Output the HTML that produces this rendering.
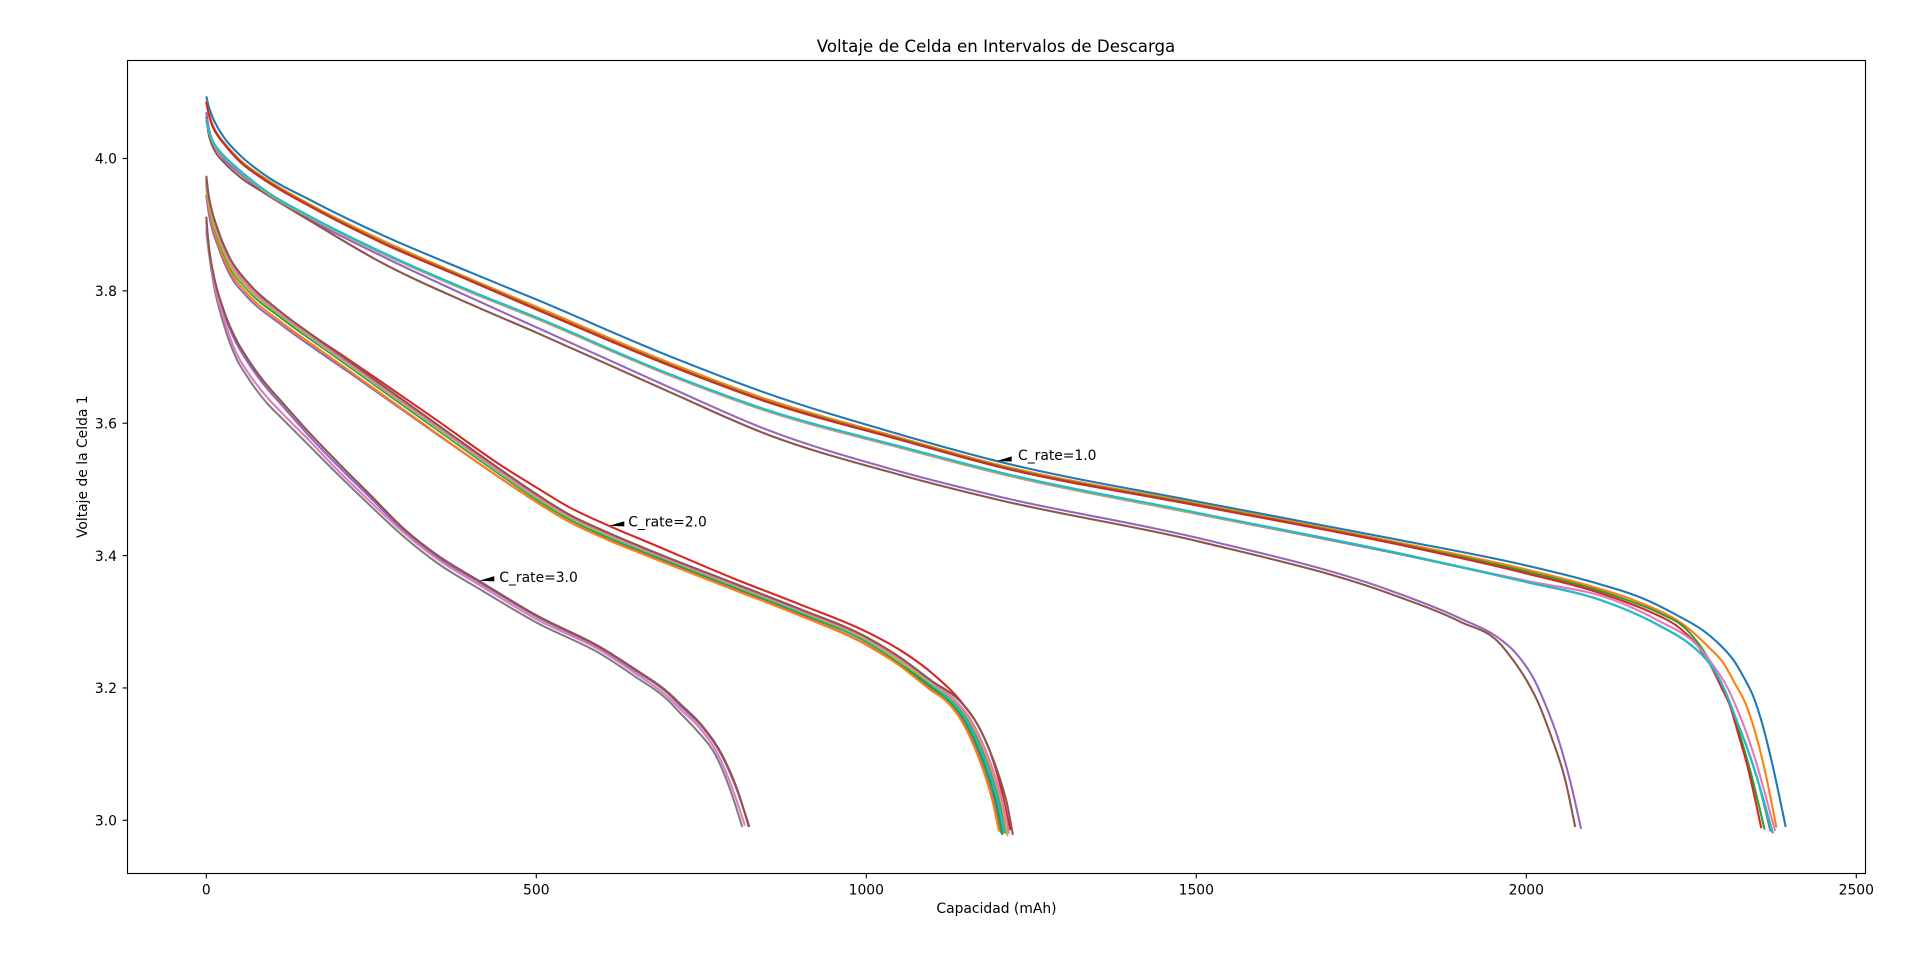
<!DOCTYPE html>
<html lang="es">
<head>
<meta charset="utf-8">
<title>Voltaje de Celda en Intervalos de Descarga</title>
<style>
html,body{margin:0;padding:0;background:#fff;width:1920px;height:967px;overflow:hidden}
svg{display:block}
text{font-family:"DejaVu Sans",sans-serif;fill:#000}
</style>
</head>
<body>
<svg id="chart" width="1920" height="967" viewBox="0 0 1920 967" xmlns="http://www.w3.org/2000/svg">
  <rect x="0" y="0" width="1920" height="967" fill="#fff"/>
  <g id="series-layer"></g>
  <g id="arrow-layer"></g>
  <rect x="127.5" y="60.5" width="1738" height="813" fill="none" stroke="#000" stroke-width="1.11"/>
  <g id="tick-layer"></g>
  <text x="996" y="52" font-size="16.64" text-anchor="middle">Voltaje de Celda en Intervalos de Descarga</text>
  <text x="996.5" y="913" font-size="13.89" text-anchor="middle">Capacidad (mAh)</text>
  <text transform="translate(87,466.7) rotate(-90)" font-size="13.89" text-anchor="middle">Voltaje de la Celda 1</text>
  <text x="1018" y="460" font-size="13.89">C_rate=1.0</text>
  <text x="628.3" y="526.5" font-size="13.89">C_rate=2.0</text>
  <text x="499.3" y="582" font-size="13.89">C_rate=3.0</text>
</svg>
<script>
// Axis tick values
const xTickValues = [0, 500, 1000, 1500, 2000, 2500];
const yTickValues = [3.0, 3.2, 3.4, 3.6, 3.8, 4.0];
const yTickLabels = ["3.0", "3.2", "3.4", "3.6", "3.8", "4.0"];

// Annotation tips
const annotationTipQ = [1197.6, 610.6, 413.6];
const annotationTipV = [3.543, 3.445, 3.362];

// C_rate = 1.0 : shared capacity grid for the head of each curve
const c1Grid = [0, 3, 8, 15, 26, 51, 86, 162, 263, 400, 500, 700, 850, 1051, 1197, 1505, 1800];
const c1BlueV   = [4.094, 4.081, 4.066, 4.051, 4.033, 4.005, 3.977, 3.935, 3.886, 3.828, 3.787, 3.702, 3.645, 3.583, 3.543, 3.481, 3.425];
const c1BlueTailQ = [2000, 2100, 2182, 2228, 2273, 2293.5, 2314, 2329, 2344, 2356.6, 2369, 2393];
const c1BlueTailV = [3.385, 3.36, 3.333, 3.31, 3.283, 3.265, 3.242, 3.217, 3.187, 3.149, 3.101, 2.99];
const c1OrangeV = [4.087, 4.072, 4.055, 4.04, 4.025, 3.998, 3.972, 3.928, 3.878, 3.818, 3.776, 3.692, 3.636, 3.578, 3.538, 3.478, 3.421];
const c1OrangeTailQ = [2000, 2100, 2162, 2248, 2276, 2299, 2316, 2334, 2346.5, 2359, 2379];
const c1OrangeTailV = [3.379, 3.353, 3.333, 3.288, 3.262, 3.237, 3.207, 3.172, 3.134, 3.086, 2.989];
const c1GreenV  = [4.086, 4.071, 4.053, 4.039, 4.024, 3.996, 3.97, 3.926, 3.875, 3.816, 3.773, 3.689, 3.633, 3.576, 3.536, 3.476, 3.419];
const c1GreenTailQ = [2000, 2100, 2152, 2197.5, 2243, 2268, 2288, 2301, 2314, 2326, 2339, 2361];
const c1GreenTailV = [3.376, 3.35, 3.333, 3.315, 3.288, 3.257, 3.222, 3.194, 3.161, 3.121, 3.076, 2.986];
const c1RedV    = [4.085, 4.07, 4.052, 4.038, 4.023, 3.995, 3.969, 3.925, 3.874, 3.815, 3.772, 3.688, 3.632, 3.575, 3.535, 3.475, 3.418];
const c1RedTailQ = [2000, 2100, 2142, 2187.5, 2233, 2261, 2283, 2296, 2309, 2321, 2334, 2356];
const c1RedTailV = [3.373, 3.347, 3.333, 3.315, 3.29, 3.262, 3.227, 3.2, 3.172, 3.131, 3.086, 2.988];
const c1PurpleV = [4.07, 4.05, 4.03, 4.015, 4.0, 3.977, 3.951, 3.905, 3.854, 3.79, 3.745, 3.655, 3.59, 3.527, 3.49, 3.426, 3.345];
const c1PurpleTailQ = [1900, 1960, 1980, 1998, 2011, 2026, 2049, 2066, 2083];
const c1PurpleTailV = [3.305, 3.274, 3.257, 3.235, 3.2145, 3.182, 3.121, 3.061, 2.987];
const c1BrownV  = [4.063, 4.04, 4.022, 4.008, 3.995, 3.972, 3.949, 3.903, 3.844, 3.78, 3.737, 3.648, 3.583, 3.522, 3.485, 3.421, 3.34];
const c1BrownTailQ = [1900, 1960, 1974, 1990, 2003, 2016, 2038, 2059, 2074];
const c1BrownTailV = [3.3, 3.267, 3.25, 3.228, 3.207, 3.182, 3.126, 3.061, 2.99];
const c1PinkV   = [4.06, 4.045, 4.028, 4.016, 4.003, 3.98, 3.952, 3.908, 3.858, 3.798, 3.758, 3.673, 3.618, 3.563, 3.525, 3.462, 3.404];
const c1PinkTailQ = [2000, 2132, 2197.5, 2263, 2283, 2304, 2319, 2334, 2346.5, 2359, 2377];
const c1PinkTailV = [3.362, 3.333, 3.303, 3.26, 3.2345, 3.202, 3.169, 3.131, 3.0935, 3.05, 2.984];
const c1GrayV   = [4.058, 4.044, 4.029, 4.017, 4.004, 3.981, 3.953, 3.909, 3.859, 3.799, 3.759, 3.674, 3.619, 3.564, 3.526, 3.463, 3.404];
const c1GrayTailQ = [2000, 2112, 2200, 2253, 2271, 2288, 2304, 2319, 2334, 2349, 2370];
const c1GrayTailV = [3.36, 3.333, 3.295, 3.262, 3.245, 3.222, 3.189, 3.15, 3.111, 3.066, 2.983];
const c1OliveV  = [4.057, 4.044, 4.029, 4.017, 4.004, 3.981, 3.953, 3.909, 3.859, 3.799, 3.759, 3.674, 3.619, 3.564, 3.526, 3.463, 3.405];
const c1OliveTailQ = [2000, 2112, 2200, 2253, 2271, 2288, 2304, 2319, 2334, 2349, 2374];
const c1OliveTailV = [3.36, 3.333, 3.295, 3.262, 3.245, 3.222, 3.189, 3.15, 3.111, 3.066, 2.98];
const c1CyanV   = [4.058, 4.045, 4.03, 4.018, 4.005, 3.982, 3.954, 3.91, 3.86, 3.8, 3.76, 3.675, 3.62, 3.565, 3.527, 3.464, 3.405];
const c1CyanTailQ = [2000, 2112, 2200, 2253, 2271, 2288, 2304, 2319, 2334, 2349, 2373];
const c1CyanTailV = [3.36, 3.333, 3.295, 3.262, 3.245, 3.222, 3.189, 3.15, 3.111, 3.066, 2.981];

// C_rate = 2.0
const c2Grid = [0, 3, 8, 16, 36, 61, 112, 162, 213, 263, 350, 450, 500, 550, 610, 672, 800, 900, 1000, 1050, 1100];
const c2BlueV   = [3.96, 3.938, 3.913, 3.886, 3.838, 3.805, 3.762, 3.726, 3.69, 3.654, 3.591, 3.521, 3.487, 3.457, 3.429, 3.404, 3.354, 3.315, 3.272, 3.24, 3.203];
const c2BlueTailQ = [1126, 1149, 1164, 1179, 1190, 1199, 1208];
const c2BlueTailV = [3.182, 3.154, 3.126, 3.09, 3.058, 3.026, 2.98];
const c2OrangeV = [3.955, 3.932, 3.907, 3.878, 3.83, 3.797, 3.754, 3.718, 3.682, 3.646, 3.584, 3.514, 3.481, 3.451, 3.423, 3.398, 3.348, 3.309, 3.265, 3.234, 3.195];
const c2OrangeTailQ = [1119, 1142, 1157, 1172, 1183, 1192, 1201];
const c2OrangeTailV = [3.182, 3.154, 3.126, 3.09, 3.058, 3.026, 2.983];
const c2GreenV  = [3.965, 3.94, 3.915, 3.885, 3.836, 3.803, 3.76, 3.724, 3.688, 3.652, 3.59, 3.519, 3.485, 3.455, 3.427, 3.402, 3.352, 3.313, 3.27, 3.238, 3.2];
const c2GreenTailQ = [1124, 1147, 1162, 1177, 1188, 1197, 1206];
const c2GreenTailV = [3.182, 3.154, 3.126, 3.09, 3.058, 3.026, 2.978];
const c2RedV    = [3.965, 3.942, 3.917, 3.89, 3.845, 3.81, 3.768, 3.732, 3.698, 3.664, 3.604, 3.534, 3.503, 3.473, 3.445, 3.419, 3.365, 3.326, 3.285, 3.258, 3.222];
const c2RedTailQ = [1147, 1170, 1187, 1205, 1218];
const c2RedTailV = [3.175, 3.142, 3.105, 3.045, 2.985];
const c2PurpleV = [3.945, 3.922, 3.897, 3.872, 3.824, 3.792, 3.75, 3.714, 3.679, 3.644, 3.583, 3.514, 3.481, 3.451, 3.424, 3.399, 3.35, 3.31, 3.266, 3.235, 3.197];
const c2PurpleTailQ = [1122, 1145, 1160, 1175, 1186, 1195, 1204];
const c2PurpleTailV = [3.182, 3.154, 3.126, 3.09, 3.058, 3.026, 2.981];
const c2BrownV  = [3.974, 3.948, 3.923, 3.897, 3.849, 3.815, 3.769, 3.732, 3.696, 3.66, 3.598, 3.527, 3.493, 3.462, 3.434, 3.408, 3.358, 3.319, 3.277, 3.247, 3.21];
const c2BrownTailQ = [1140, 1163, 1178, 1193, 1204, 1213, 1222];
const c2BrownTailV = [3.182, 3.154, 3.126, 3.09, 3.058, 3.026, 2.978];
const c2PinkV   = [3.968, 3.945, 3.92, 3.893, 3.844, 3.81, 3.766, 3.729, 3.693, 3.657, 3.595, 3.524, 3.49, 3.46, 3.432, 3.406, 3.356, 3.317, 3.275, 3.244, 3.208];
const c2PinkTailQ = [1134, 1157, 1172, 1187, 1198, 1207, 1216];
const c2PinkTailV = [3.182, 3.154, 3.126, 3.09, 3.058, 3.026, 2.98];
const c2GrayV   = [3.97, 3.946, 3.919, 3.892, 3.843, 3.809, 3.767, 3.73, 3.694, 3.658, 3.596, 3.525, 3.491, 3.461, 3.433, 3.407, 3.357, 3.318, 3.275, 3.243, 3.205];
const c2GrayTailQ = [1129, 1152, 1167, 1182, 1193, 1202, 1211];
const c2GrayTailV = [3.182, 3.154, 3.126, 3.09, 3.058, 3.026, 2.98];
const c2OliveV  = [3.963, 3.94, 3.915, 3.888, 3.839, 3.806, 3.764, 3.727, 3.691, 3.655, 3.593, 3.522, 3.488, 3.458, 3.43, 3.405, 3.355, 3.316, 3.273, 3.241, 3.206];
const c2OliveTailQ = [1132, 1155, 1170, 1185, 1196, 1205, 1214];
const c2OliveTailV = [3.182, 3.154, 3.126, 3.09, 3.058, 3.026, 2.976];
const c2CyanV   = [3.962, 3.939, 3.914, 3.887, 3.838, 3.805, 3.763, 3.726, 3.69, 3.654, 3.592, 3.521, 3.487, 3.457, 3.429, 3.404, 3.354, 3.315, 3.272, 3.24, 3.204];
const c2CyanTailQ = [1127, 1150, 1165, 1180, 1191, 1200, 1209];
const c2CyanTailV = [3.182, 3.154, 3.126, 3.09, 3.058, 3.026, 2.98];

// C_rate = 3.0
const c3Grid = [0, 3, 11, 26, 46, 61, 94, 112, 152, 200, 250, 300, 351, 413, 500, 600, 650, 700];
const c3PurpleV = [3.905, 3.875, 3.82, 3.768, 3.72, 3.695, 3.65, 3.63, 3.585, 3.535, 3.486, 3.437, 3.397, 3.36, 3.308, 3.258, 3.226, 3.191];
const c3PurpleTailQ = [718, 753, 783, 805, 823];
const c3PurpleTailV = [3.173, 3.139, 3.094, 3.043, 2.99];
const c3BrownV  = [3.912, 3.875, 3.825, 3.772, 3.725, 3.7, 3.655, 3.635, 3.59, 3.54, 3.49, 3.44, 3.4, 3.362, 3.31, 3.26, 3.228, 3.193];
const c3BrownTailQ = [718, 753, 783, 805, 822];
const c3BrownTailV = [3.176, 3.141, 3.096, 3.045, 2.99];
const c3PinkV   = [3.895, 3.87, 3.818, 3.76, 3.705, 3.68, 3.637, 3.618, 3.578, 3.528, 3.48, 3.434, 3.394, 3.356, 3.304, 3.255, 3.222, 3.186];
const c3PinkTailQ = [718, 748, 778, 800, 816];
const c3PinkTailV = [3.168, 3.139, 3.094, 3.04, 2.992];
const c3GrayV   = [3.89, 3.865, 3.811, 3.751, 3.697, 3.672, 3.628, 3.61, 3.57, 3.522, 3.474, 3.428, 3.388, 3.35, 3.299, 3.25, 3.217, 3.181];
const c3GrayTailQ = [718, 743, 773, 796, 812];
const c3GrayTailV = [3.162, 3.136, 3.096, 3.04, 2.99];

const tabBlue = "#1f77b4", tabOrange = "#ff7f0e", tabGreen = "#2ca02c", tabRed = "#d62728", tabPurple = "#9467bd",
      tabBrown = "#8c564b", tabPink = "#e377c2", tabGray = "#7f7f7f", tabOlive = "#bcbd22", tabCyan = "#17becf";

const seriesList = [
  ["c1-blue", c1Grid, c1BlueV, c1BlueTailQ, c1BlueTailV, tabBlue],
  ["c1-orange", c1Grid, c1OrangeV, c1OrangeTailQ, c1OrangeTailV, tabOrange],
  ["c1-green", c1Grid, c1GreenV, c1GreenTailQ, c1GreenTailV, tabGreen],
  ["c1-red", c1Grid, c1RedV, c1RedTailQ, c1RedTailV, tabRed],
  ["c1-purple", c1Grid, c1PurpleV, c1PurpleTailQ, c1PurpleTailV, tabPurple],
  ["c1-brown", c1Grid, c1BrownV, c1BrownTailQ, c1BrownTailV, tabBrown],
  ["c1-pink", c1Grid, c1PinkV, c1PinkTailQ, c1PinkTailV, tabPink],
  ["c1-gray", c1Grid, c1GrayV, c1GrayTailQ, c1GrayTailV, tabGray],
  ["c1-olive", c1Grid, c1OliveV, c1OliveTailQ, c1OliveTailV, tabOlive],
  ["c1-cyan", c1Grid, c1CyanV, c1CyanTailQ, c1CyanTailV, tabCyan],
  ["c2-blue", c2Grid, c2BlueV, c2BlueTailQ, c2BlueTailV, tabBlue],
  ["c2-purple", c2Grid, c2PurpleV, c2PurpleTailQ, c2PurpleTailV, tabPurple],
  ["c2-orange", c2Grid, c2OrangeV, c2OrangeTailQ, c2OrangeTailV, tabOrange],
  ["c2-red", c2Grid, c2RedV, c2RedTailQ, c2RedTailV, tabRed],
  ["c2-green", c2Grid, c2GreenV, c2GreenTailQ, c2GreenTailV, tabGreen],
  ["c2-gray", c2Grid, c2GrayV, c2GrayTailQ, c2GrayTailV, tabGray],
  ["c2-cyan", c2Grid, c2CyanV, c2CyanTailQ, c2CyanTailV, tabCyan],
  ["c2-olive", c2Grid, c2OliveV, c2OliveTailQ, c2OliveTailV, tabOlive],
  ["c2-pink", c2Grid, c2PinkV, c2PinkTailQ, c2PinkTailV, tabPink],
  ["c2-brown", c2Grid, c2BrownV, c2BrownTailQ, c2BrownTailV, tabBrown],
  ["c3-purple", c3Grid, c3PurpleV, c3PurpleTailQ, c3PurpleTailV, tabPurple],
  ["c3-gray", c3Grid, c3GrayV, c3GrayTailQ, c3GrayTailV, tabGray],
  ["c3-pink", c3Grid, c3PinkV, c3PinkTailQ, c3PinkTailV, tabPink],
  ["c3-brown", c3Grid, c3BrownV, c3BrownTailQ, c3BrownTailV, tabBrown]
];

const SVG_NS = "http://www.w3.org/2000/svg";
function xScale(q) { return 206.3 + 0.66 * q; }
function yScale(v) { return 820.3 - 661.8 * (v - 3); }

// Monotone cubic path through points with increasing x
function smoothPath(pts) {
  const n = pts.length;
  const h = [], s = [], t = new Array(n);
  for (let i = 0; i < n - 1; i++) {
    h.push(pts[i + 1][0] - pts[i][0]);
    s.push((pts[i + 1][1] - pts[i][1]) / h[i]);
  }
  for (let i = 1; i < n - 1; i++) {
    const p = (s[i - 1] * h[i] + s[i] * h[i - 1]) / (h[i - 1] + h[i]);
    t[i] = (Math.sign(s[i - 1]) + Math.sign(s[i])) *
      Math.min(Math.abs(s[i - 1]), Math.abs(s[i]), 0.5 * Math.abs(p));
  }
  t[0] = (3 * s[0] - t[1]) / 2;
  t[n - 1] = (3 * s[n - 2] - t[n - 2]) / 2;
  let d = "M" + pts[0][0].toFixed(2) + " " + pts[0][1].toFixed(2);
  for (let i = 0; i < n - 1; i++) {
    const dx = h[i] / 3;
    d += "C" + (pts[i][0] + dx).toFixed(2) + " " + (pts[i][1] + dx * t[i]).toFixed(2) +
         " " + (pts[i + 1][0] - dx).toFixed(2) + " " + (pts[i + 1][1] - dx * t[i + 1]).toFixed(2) +
         " " + pts[i + 1][0].toFixed(2) + " " + pts[i + 1][1].toFixed(2);
  }
  return d;
}

const seriesLayer = document.getElementById("series-layer");
seriesList.forEach(function (s) {
  const qs = s[1].concat(s[3]);
  const vs = s[2].concat(s[4]);
  const pts = qs.map(function (q, i) { return [xScale(q), yScale(vs[i])]; });
  const path = document.createElementNS(SVG_NS, "path");
  path.setAttribute("d", smoothPath(pts));
  path.setAttribute("fill", "none");
  path.setAttribute("stroke", s[5]);
  path.setAttribute("stroke-width", "2.08");
  path.setAttribute("stroke-linejoin", "round");
  
  
  seriesLayer.appendChild(path);
});

const arrowLayer = document.getElementById("arrow-layer");
annotationTipQ.forEach(function (q, i) {
  const tx = xScale(q), ty = yScale(annotationTipV[i]);
  const tri = document.createElementNS(SVG_NS, "polygon");
  tri.setAttribute("points", tx + "," + ty + " " + (tx + 15) + "," + (ty - 4.6) + " " + (tx + 15) + "," + (ty + 0.6));
  tri.setAttribute("fill", "#000");
  
  
  arrowLayer.appendChild(tri);
});

const tickLayer = document.getElementById("tick-layer");
xTickValues.forEach(function (val) {
  const px = xScale(val);
  const line = document.createElementNS(SVG_NS, "line");
  line.setAttribute("x1", px); line.setAttribute("x2", px);
  line.setAttribute("y1", 873.5); line.setAttribute("y2", 878.4);
  line.setAttribute("stroke", "#000"); line.setAttribute("stroke-width", "1.11");
  
  
  tickLayer.appendChild(line);
  const label = document.createElementNS(SVG_NS, "text");
  label.setAttribute("x", px); label.setAttribute("y", 894.5);
  label.setAttribute("font-size", "13.89"); label.setAttribute("text-anchor", "middle");
  
  
  label.textContent = String(val);
  tickLayer.appendChild(label);
});
yTickValues.forEach(function (val, i) {
  const py = yScale(val);
  const line = document.createElementNS(SVG_NS, "line");
  line.setAttribute("x1", 122.6); line.setAttribute("x2", 127.5);
  line.setAttribute("y1", py); line.setAttribute("y2", py);
  line.setAttribute("stroke", "#000"); line.setAttribute("stroke-width", "1.11");
  
  
  tickLayer.appendChild(line);
  const label = document.createElementNS(SVG_NS, "text");
  label.setAttribute("x", 117); label.setAttribute("y", py + 5.2);
  label.setAttribute("font-size", "13.89"); label.setAttribute("text-anchor", "end");
  
  
  label.textContent = yTickLabels[i];
  tickLayer.appendChild(label);
});
</script>
</body>
</html>
